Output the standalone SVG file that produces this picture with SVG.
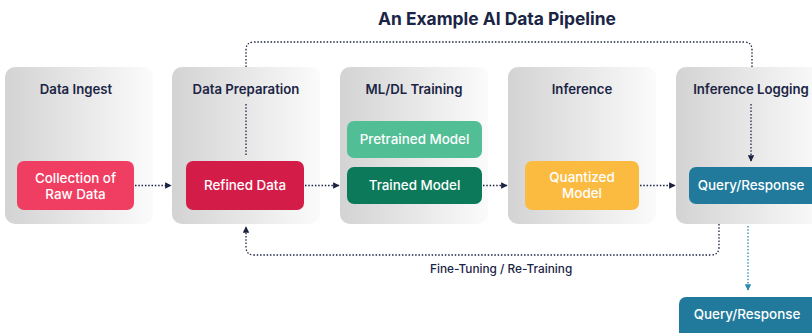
<svg xmlns="http://www.w3.org/2000/svg" width="812" height="333" viewBox="0 0 812 333">
<defs>
<linearGradient id="pg" x1="0" y1="0" x2="1" y2="0">
<stop offset="0" stop-color="#d3d3d3"/>
<stop offset="1" stop-color="#fbfbfb"/>
</linearGradient>
<marker id="ah" viewBox="0 0 10 10" refX="9" refY="5" markerWidth="5" markerHeight="5" orient="auto">
<path d="M0,0 L10,5 L0,10 z" fill="#1b2340"/>
</marker>
<marker id="ahb" viewBox="0 0 10 10" refX="9" refY="5" markerWidth="5" markerHeight="5" orient="auto">
<path d="M0,0 L10,5 L0,10 z" fill="#2a8ab0"/>
</marker>
</defs>
<style>
.panel{fill:url(#pg)}
.hdr{font-family:Inter,"Open Sans",sans-serif;font-weight:600;font-size:13.2px;fill:#1b2545;text-anchor:middle}
.btxt{font-family:Inter,"Open Sans",sans-serif;font-weight:500;font-size:13.4px;fill:#ffffff;text-anchor:middle}
.con{fill:none;stroke:#1b2340;stroke-width:1.3;stroke-dasharray:1.5 1.8}
.conb{fill:none;stroke:#2a8ab0;stroke-width:1.3;stroke-dasharray:1.5 1.8}
.title{font-family:Inter,"Open Sans",sans-serif;font-weight:700;font-size:17.4px;fill:#1b2545;text-anchor:middle}
.lbl{font-family:Inter,"Open Sans",sans-serif;font-weight:500;font-size:11.8px;fill:#1b2545}
</style>
<rect width="812" height="333" fill="#ffffff"/>
<text class="title" x="497" y="25">An Example AI Data Pipeline</text>

<g id="connectors">
<path class="con" d="M246,67 V50 Q246,42 254,42 H744 Q752,42 752,50 V67"/>
<path class="con" d="M719,224 V247 Q719,255 711,255 H254 Q246,255 246,247 V227" marker-end="url(#ah)"/>
<path class="conb" d="M748,226 V290" marker-end="url(#ahb)"/>
</g>

<g id="data-ingest">
<rect class="panel" x="5" y="67" width="148" height="157" rx="10"/>
<text class="hdr" x="76" y="94">Data Ingest</text>
</g>
<g id="data-preparation">
<rect class="panel" x="172" y="67" width="148" height="157" rx="10"/>
<text class="hdr" x="246" y="94">Data Preparation</text>
</g>
<g id="ml-dl-training">
<rect class="panel" x="340" y="67" width="148" height="157" rx="10"/>
<text class="hdr" x="414" y="94">ML/DL Training</text>
</g>
<g id="inference">
<rect class="panel" x="508" y="67" width="148" height="157" rx="10"/>
<text class="hdr" x="582" y="94">Inference</text>
</g>
<g id="inference-logging">
<rect class="panel" x="676" y="67" width="148" height="157" rx="10"/>
<text class="hdr" x="751" y="94">Inference Logging</text>
</g>

<g id="connectors-inner">
<path class="con" d="M246,104 V156"/>
<path class="con" d="M751,104 V161" marker-end="url(#ah)"/>
<path class="con" d="M135,185.5 H171" marker-end="url(#ah)"/>
<path class="con" d="M305,185.5 H339" marker-end="url(#ah)"/>
<path class="con" d="M483,185.5 H507" marker-end="url(#ah)"/>
<path class="con" d="M640,185.5 H675" marker-end="url(#ah)"/>
</g>

<g id="collection-raw-data">
<rect x="17" y="161" width="117" height="49" rx="7" fill="#f03e62"/>
<text class="btxt" x="75.5" y="183">Collection of</text>
<text class="btxt" x="75.5" y="199">Raw Data</text>
</g>
<g id="refined-data">
<rect x="186" y="161" width="118" height="49" rx="7" fill="#d31c47"/>
<text class="btxt" x="245" y="189.5">Refined Data</text>
</g>
<g id="pretrained-model">
<rect x="347" y="121" width="135" height="37" rx="7" fill="#52be96"/>
<text class="btxt" x="414.5" y="144">Pretrained Model</text>
</g>
<g id="trained-model">
<rect x="347" y="167" width="135" height="37" rx="7" fill="#0c7a5a"/>
<text class="btxt" x="414.5" y="190">Trained Model</text>
</g>
<g id="quantized-model">
<rect x="525" y="161" width="114" height="49" rx="7" fill="#fbbb41"/>
<text class="btxt" x="582" y="182">Quantized</text>
<text class="btxt" x="582" y="198">Model</text>
</g>
<g id="query-response">
<rect x="689" y="167" width="140" height="37" rx="7" fill="#217a9c"/>
<text class="btxt" x="751" y="190">Query/Response</text>
</g>
<g id="query-response-out">
<rect x="679" y="297" width="150" height="50" rx="7" fill="#217a9c"/>
<text class="btxt" x="747" y="319">Query/Response</text>
</g>
<text class="lbl" x="430" y="273">Fine-Tuning / Re-Training</text>
</svg>
